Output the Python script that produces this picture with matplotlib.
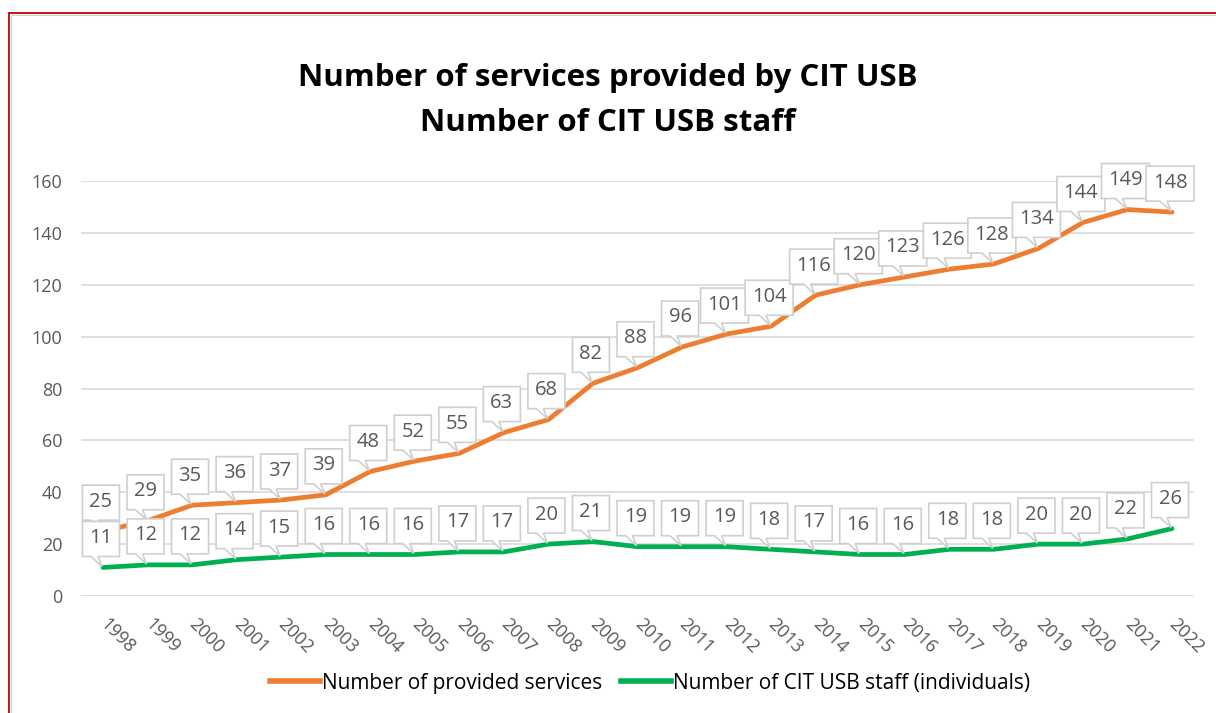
import matplotlib
matplotlib.use("Agg")
import matplotlib.pyplot as plt
import matplotlib.font_manager as fm
from matplotlib.patches import Polygon, Rectangle
from matplotlib.lines import Line2D
from matplotlib.transforms import Affine2D, ScaledTranslation, IdentityTransform

# ---- data ----
years = [str(y) for y in range(1998, 2023)]
services = [25, 29, 35, 36, 37, 39, 48, 52, 55, 63, 68, 82, 88, 96, 101, 104,
            116, 120, 123, 126, 128, 134, 144, 149, 148]
staff = [11, 12, 12, 14, 15, 16, 16, 16, 17, 17, 20, 21, 19, 19, 19, 18,
         17, 16, 16, 18, 18, 20, 20, 22, 26]
series_names = ["Number of provided services", "Number of CIT USB staff (individuals)"]
title_lines = ["Number of services provided by CIT USB", "Number of CIT USB staff"]
yticks = list(range(0, 161, 20))

ORANGE = "#ED7D31"
GREEN = "#00B050"
GRAY_TXT = "#595959"
GRID = "#D9D9D9"

names = {f.name for f in fm.fontManager.ttflist}
TITLE_FONT = "Open Sans" if "Open Sans" in names else "DejaVu Sans"
BODY_FONT = "Open Sans" if "Open Sans" in names else "DejaVu Sans"
plt.rcParams["font.family"] = [BODY_FONT, "DejaVu Sans"]

W, H = 1216, 713
fig = plt.figure(figsize=(W / 100, H / 100), dpi=100)
fig.patch.set_facecolor("white")

ax = fig.add_axes([80.7 / W, 1 - 596 / H, (1194.3 - 80.7) / W, (596 - 181) / H])
x = list(range(len(years)))
ax.set_xlim(-0.5, len(years) - 0.5)
ax.set_ylim(0, 160)
ax.set_yticks(yticks)
ax.set_yticklabels([str(v) for v in yticks], fontsize=13, color=GRAY_TXT)
ax.set_xticks(x)
ax.set_xticklabels(years, fontsize=13, color=GRAY_TXT)
for lbl in ax.get_xticklabels():
    lbl.set_rotation(-45)
    lbl.set_ha("left")
    lbl.set_va("center")
    lbl.set_rotation_mode("anchor")
ax.tick_params(axis="both", length=0)
ax.tick_params(axis="y", pad=13)
ax.tick_params(axis="x", pad=18)
for s in ax.spines.values():
    s.set_visible(False)
ax.grid(axis="y", color=GRID, lw=1.2)
ax.set_axisbelow(True)

ax.plot(x, services, color=ORANGE, lw=3.4, solid_capstyle="round", zorder=3)
ax.plot(x, staff, color=GREEN, lw=3.4, solid_capstyle="round", zorder=3)


def callout(xi, yi, label, z):
    trans = Affine2D() + ScaledTranslation(xi, yi, ax.transData)
    w = 37 if len(label) <= 2 else 48
    h = 35
    gap = 11
    cx = -2
    l, r = cx - w / 2, cx + w / 2
    b, t = gap, gap + h
    verts = [(l, b), (cx - 10, b), (-1, 1), (cx - 3, b), (r, b), (r, t), (l, t)]
    poly = Polygon(verts, closed=True, transform=trans, facecolor="white",
                   edgecolor="#CFCFCF", lw=1.2, zorder=z, clip_on=False)
    ax.add_patch(poly)
    ax.text(cx, b + h / 2 + 1, label, transform=trans, ha="center", va="center",
            fontsize=14.5, color=GRAY_TXT, zorder=z + 0.5, clip_on=False)


z = 5
for xi, v in zip(x, services):
    callout(xi, v, str(v), z)
    z += 1
for xi, v in zip(x, staff):
    callout(xi, v, str(v), z)
    z += 1

# title
fig.text(0.5, 1 - 78 / H, title_lines[0], ha="center", va="center",
         fontsize=22.5, fontweight="bold", family=TITLE_FONT, color="black")
fig.text(0.5, 1 - 123 / H, title_lines[1], ha="center", va="center",
         fontsize=22.5, fontweight="bold", family=TITLE_FONT, color="black")

# legend
handles = [Line2D([], [], color=ORANGE, lw=4), Line2D([], [], color=GREEN, lw=4)]
fig.legend(handles, series_names, loc="center", bbox_to_anchor=(650 / W, 1 - 683 / H),
           ncol=2, frameon=False, fontsize=15, handlelength=2.4, handletextpad=0.1,
           columnspacing=0.9, labelcolor="black")

# chart border (red outer, gray inner)
fig.add_artist(Rectangle((8.5, -30), 1400, 700.5 + 30, transform=IdentityTransform(),
                         fill=False, edgecolor="#C00000", lw=1.3))
fig.add_artist(Rectangle((11, -30), 1400, 698 + 30, transform=IdentityTransform(),
                         fill=False, edgecolor="#D0D0D0", lw=0.8))

fig.savefig("out.png", dpi=100)
